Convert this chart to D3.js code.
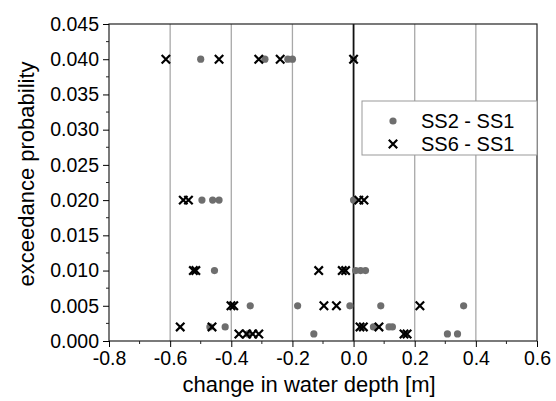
<!DOCTYPE html>
<html>
<head>
<meta charset="utf-8">
<script src="https://cdn.jsdelivr.net/npm/d3@7"></script>
<style>
  body { margin: 0; background: #fff; }
  text { font-family: "Liberation Sans", Arial, sans-serif; fill: #000; }
</style>
</head>
<body>
<div id="chart"></div>
<script>
// change in water depth [m] vs exceedance probability
const ss2x = [-0.50, -0.29, -0.215, -0.20, 0.0,
              -0.496, -0.461, -0.44, 0.0,
              -0.455, 0.007, 0.023, 0.039,
              -0.338, -0.183, -0.012, 0.089, 0.36,
              -0.47, -0.42, 0.065, 0.116, 0.127,
              -0.13, -0.345, 0.307, 0.34];
const ss2y = [0.04, 0.04, 0.04, 0.04, 0.04,
              0.02, 0.02, 0.02, 0.02,
              0.01, 0.01, 0.01, 0.01,
              0.005, 0.005, 0.005, 0.005, 0.005,
              0.002, 0.002, 0.002, 0.002, 0.002,
              0.001, 0.001, 0.001, 0.001];
const ss6x = [-0.614, -0.44, -0.31, -0.24, 0.0,
              -0.557, -0.54, 0.017, 0.034,
              -0.524, -0.516, -0.114, -0.037, -0.026,
              -0.401, -0.392, -0.097, -0.056, 0.217,
              -0.567, -0.463, 0.021, 0.032, 0.083,
              -0.375, -0.35, -0.33, -0.31, 0.165, 0.175];
const ss6y = [0.04, 0.04, 0.04, 0.04, 0.04,
              0.02, 0.02, 0.02, 0.02,
              0.01, 0.01, 0.01, 0.01, 0.01,
              0.005, 0.005, 0.005, 0.005, 0.005,
              0.002, 0.002, 0.002, 0.002, 0.002,
              0.001, 0.001, 0.001, 0.001, 0.001, 0.001];
const xTicks = [-0.8, -0.6, -0.4, -0.2, 0.0, 0.2, 0.4, 0.6];
const yTicks = [0, 0.005, 0.01, 0.015, 0.02, 0.025, 0.03, 0.035, 0.04, 0.045];
const gridX = [-0.6, -0.4, -0.2, 0.2, 0.4];
const seriesNames = ["SS2 - SS1", "SS6 - SS1"];

const W = 556, H = 401;
const m = {left: 109, right: 537, top: 24, bottom: 341};

const svg = d3.select("#chart").append("svg")
  .attr("width", W).attr("height", H);

const x = d3.scaleLinear().domain([-0.8, 0.6]).range([m.left, m.right]);
const y = d3.scaleLinear().domain([0, 0.045]).range([m.bottom, m.top]);

// vertical grid lines
svg.append("g").selectAll("line").data(gridX).join("line")
  .attr("x1", d => x(d)).attr("x2", d => x(d))
  .attr("y1", m.top).attr("y2", m.bottom)
  .attr("stroke", "#a8a8a8").attr("stroke-width", 1.3);

svg.append("line")
  .attr("x1", x(0)).attr("x2", x(0)).attr("y1", m.top).attr("y2", m.bottom)
  .attr("stroke", "#111").attr("stroke-width", 1.8);

// frame
svg.append("rect")
  .attr("x", m.left).attr("y", m.top).attr("width", m.right - m.left).attr("height", m.bottom - m.top)
  .attr("fill", "none").attr("stroke", "#222").attr("stroke-width", 1.2);

// axes (plain hyphen for negatives, like the original)
const fmt1 = d => d3.format(".1f")(d).replace("\u2212", "-");
const xAxis = d3.axisBottom(x).tickValues(xTicks).tickFormat(fmt1).tickSize(6).tickPadding(4);
const gx = svg.append("g").attr("transform", `translate(0,${m.bottom})`).call(xAxis);
gx.select(".domain").remove();
gx.selectAll("text").style("font-size", "19.5px");

const xMinor = d3.range(-0.7, 0.6, 0.2);
svg.append("g").selectAll("line").data(xMinor).join("line")
  .attr("x1", d => x(d)).attr("x2", d => x(d))
  .attr("y1", m.bottom).attr("y2", m.bottom + 3)
  .attr("stroke", "#222");

const yAxis = d3.axisLeft(y).tickValues(yTicks).tickFormat(d3.format(".3f")).tickSize(6).tickPadding(4);
const gy = svg.append("g").attr("transform", `translate(${m.left},0)`).call(yAxis);
gy.select(".domain").remove();
gy.selectAll("text").style("font-size", "19.5px");

const yMinor = d3.range(0.0025, 0.045, 0.005);
svg.append("g").selectAll("line").data(yMinor).join("line")
  .attr("x1", m.left - 3).attr("x2", m.left)
  .attr("y1", d => y(d)).attr("y2", d => y(d))
  .attr("stroke", "#222");

// axis titles
svg.append("text")
  .attr("x", 309).attr("y", 392)
  .attr("text-anchor", "middle")
  .style("font-size", "22px")
  .text("change in water depth [m]");

svg.append("text")
  .attr("transform", "translate(34,174) rotate(-90)")
  .attr("text-anchor", "middle")
  .style("font-size", "22px")
  .text("exceedance probability");

// markers
const cross = (g, cx, cy, s) => {
  g.append("path")
    .attr("d", `M${cx - s},${cy - s}L${cx + s},${cy + s}M${cx - s},${cy + s}L${cx + s},${cy - s}`)
    .attr("stroke", "#000").attr("stroke-width", 2.2).attr("fill", "none");
};

const dots = svg.append("g");
dots.selectAll("circle").data(ss2x).join("circle")
  .attr("cx", d => x(d)).attr("cy", (d, i) => y(ss2y[i]))
  .attr("r", 3.6).attr("fill", "#6e6e6e");

const crosses = svg.append("g");
ss6x.forEach((v, i) => cross(crosses, x(v), y(ss6y[i]), 4.2));

// legend
const lg = svg.append("g");
lg.append("rect")
  .attr("x", 362).attr("y", 101).attr("width", m.right - 362).attr("height", 54)
  .attr("fill", "#fff").attr("stroke", "#999").attr("stroke-width", 1);
lg.append("circle").attr("cx", 393).attr("cy", 121).attr("r", 3.6).attr("fill", "#6e6e6e");
cross(lg, 393, 144, 4.2);
lg.selectAll("text.lab").data(seriesNames).join("text")
  .attr("class", "lab")
  .attr("x", 421).attr("y", (d, i) => 128 + i * 23)
  .style("font-size", "20px")
  .text(d => d);
</script>
</body>
</html>
